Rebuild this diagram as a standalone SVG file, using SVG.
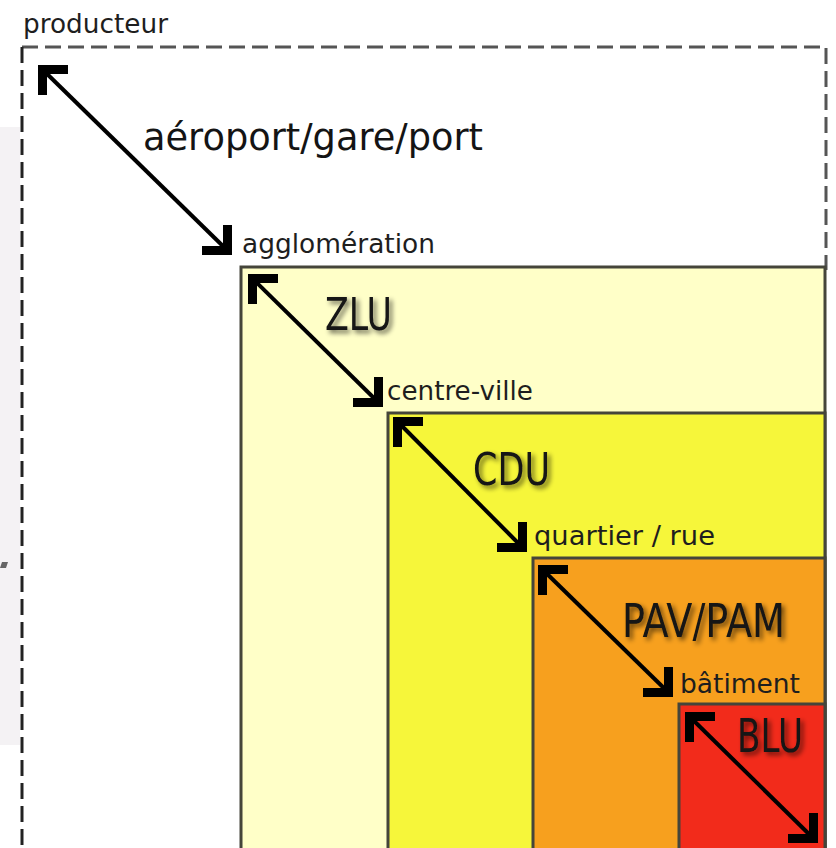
<svg xmlns="http://www.w3.org/2000/svg" width="836" height="848" viewBox="0 0 836 848">
  <style>
    .zone { stroke: #45453a; stroke-width: 3; }
    .dash { fill: none; stroke-width: 3; stroke-dasharray: 16,7; }
    .small { font-family: "DejaVu Sans", "Liberation Sans", sans-serif; font-size: 26px; fill: #1e1e1e; }
    .big { font-family: "DejaVu Sans", "Liberation Sans", sans-serif; fill: #141414; }
    .arrow { stroke: #000; stroke-width: 4; fill: none; marker-start: url(#headTL); marker-end: url(#headBR); }
  </style>
  <defs>
    <marker id="headTL" markerUnits="userSpaceOnUse" orient="0" markerWidth="32" markerHeight="32" viewBox="0 0 32 32" refX="4" refY="4">
      <path d="M1,1 H31 V10 H10 V31 H1 Z" fill="#000"/>
    </marker>
    <marker id="headBR" markerUnits="userSpaceOnUse" orient="0" markerWidth="32" markerHeight="32" viewBox="0 0 32 32" refX="28" refY="28">
      <path d="M31,1 V31 H1 V22 H22 V1 Z" fill="#000"/>
    </marker>
    <filter id="shadow" x="-20%" y="-30%" width="150%" height="170%">
      <feGaussianBlur in="SourceAlpha" stdDeviation="2.5"/>
      <feOffset dx="3" dy="3" result="b"/>
      <feComponentTransfer in="b" result="s"><feFuncA type="linear" slope="0.6"/></feComponentTransfer>
      <feMerge><feMergeNode in="s"/><feMergeNode in="SourceGraphic"/></feMerge>
    </filter>
  </defs>

  <rect x="0" y="0" width="836" height="848" fill="#ffffff"/>
  <!-- faint background artefact at the left edge -->
  <rect x="0" y="127" width="20" height="618" fill="#f4f2f4"/>
  <polygon points="2,562 8,562 6,568 0,568" fill="#666"/>

  <g id="producteur">
    <path class="dash" d="M22,47 H826 V270" stroke="#555"/>
    <path class="dash" d="M22,47 V860" stroke="#222"/>
    <text class="small" x="23" y="33" textLength="145" lengthAdjust="spacingAndGlyphs">producteur</text>
  </g>

  <g id="agglomeration">
    <rect class="zone" x="241" y="267" width="584" height="620" fill="#ffffc8"/>
    <text class="small" x="242" y="253" textLength="193" lengthAdjust="spacingAndGlyphs">agglomération</text>
  </g>

  <g id="centre-ville">
    <rect class="zone" x="388" y="413" width="437" height="480" fill="#f6f63a"/>
    <text class="small" x="387" y="400" textLength="146" lengthAdjust="spacingAndGlyphs">centre-ville</text>
  </g>

  <g id="quartier">
    <rect class="zone" x="533" y="558" width="292" height="340" fill="#f7a01e"/>
    <text class="small" x="534" y="545" textLength="181" lengthAdjust="spacingAndGlyphs">quartier / rue</text>
  </g>

  <g id="batiment">
    <rect class="zone" x="679" y="704" width="146" height="200" fill="#f22b1b"/>
    <text class="small" x="680" y="693" textLength="120" lengthAdjust="spacingAndGlyphs">bâtiment</text>
  </g>

  <g id="connectors">
    <line class="arrow" x1="41" y1="68" x2="229" y2="252"/>
    <line class="arrow" x1="251" y1="277" x2="380" y2="404"/>
    <line class="arrow" x1="396" y1="420" x2="524" y2="549"/>
    <line class="arrow" x1="541" y1="568" x2="670" y2="694"/>
    <line class="arrow" x1="688" y1="715" x2="815" y2="840"/>
  </g>

  <g id="labels">
    <text class="big" x="143" y="150" font-size="38" textLength="340" lengthAdjust="spacingAndGlyphs">aéroport/gare/port</text>
    <text class="big" x="325" y="330" font-size="44" textLength="67" lengthAdjust="spacingAndGlyphs" filter="url(#shadow)">ZLU</text>
    <text class="big" x="473" y="485" font-size="44" textLength="77" lengthAdjust="spacingAndGlyphs" filter="url(#shadow)">CDU</text>
    <text class="big" x="622" y="637" font-size="46" textLength="163" lengthAdjust="spacingAndGlyphs" filter="url(#shadow)">PAV/PAM</text>
    <text class="big" x="737" y="752" font-size="46" textLength="66" lengthAdjust="spacingAndGlyphs" filter="url(#shadow)" fill="#1e0808">BLU</text>
  </g>
</svg>
